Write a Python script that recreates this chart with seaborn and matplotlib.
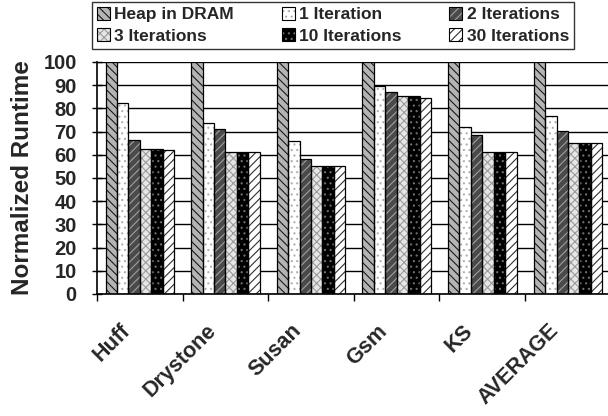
import numpy as np
import pandas as pd
import seaborn as sns
import matplotlib
matplotlib.use("Agg")
import matplotlib.pyplot as plt
from matplotlib.patches import Rectangle, Patch
from matplotlib.legend_handler import HandlerTuple
from matplotlib.transforms import ScaledTranslation

categories = ["Huff", "Drystone", "Susan", "Gsm", "KS", "AVERAGE"]
series = ["Heap in DRAM", "1 Iteration", "2 Iterations", "3 Iterations", "10 Iterations", "30 Iterations"]
heap_dram = [100, 100, 100, 100, 100, 100]
iter_1 = [82.2, 73.7, 66.1, 89.7, 72.1, 76.7]
iter_2 = [66.5, 71.1, 58.2, 87.1, 68.5, 70.3]
iter_3 = [62.5, 61.3, 55.0, 85.2, 61.3, 65.0]
iter_10 = [62.5, 61.0, 55.0, 85.2, 61.3, 65.0]
iter_30 = [61.9, 61.0, 55.0, 84.6, 61.3, 65.0]
yticks = [0, 10, 20, 30, 40, 50, 60, 70, 80, 90, 100]

values = [heap_dram, iter_1, iter_2, iter_3, iter_10, iter_30]
rows = []
for s, vals in zip(series, values):
    for c, v in zip(categories, vals):
        rows.append({"Benchmark": c, "Series": s, "Runtime": v})
df = pd.DataFrame(rows)

# style per series: (face, hatch, hatch color)
styles = [
    ("#b4b4b4", "\\\\\\\\", "#1a1a1a"),
    ("#ffffff", "...", "#b0b0b0"),
    ("#4a4a4a", "////", "#a0a0a0"),
    ("#e6e6e6", "xxxx", "#9a9a9a"),
    ("#000000", "...", "#707070"),
    ("#ffffff", "////", "#303030"),
]

sns.set_theme(style="white")
plt.rcParams["font.family"] = ["Liberation Sans", "DejaVu Sans"]
plt.rcParams["font.weight"] = "bold"
plt.rcParams["hatch.linewidth"] = 0.8

fig = plt.figure(figsize=(6.08, 4.16), dpi=100)
ax = fig.add_axes([0.1595, 0.2933, 0.845, 0.5577])

sns.barplot(data=df, x="Benchmark", y="Runtime", hue="Series", order=categories,
            hue_order=series, width=0.8, ax=ax, legend=False, errorbar=None,
            saturation=1)

for cont, (face, hatch, hc) in zip(ax.containers, styles):
    for p in cont.patches:
        p.set_facecolor(face)
        p.set_edgecolor(hc)
        p.set_hatch(hatch)
        p.set_linewidth(0)
        outline = Rectangle(p.get_xy(), p.get_width(), p.get_height(),
                            facecolor="none", edgecolor="black", linewidth=0.9,
                            zorder=p.get_zorder() + 0.1)
        ax.add_patch(outline)

ax.set_xlim(-0.5, len(categories) - 0.5)
ax.set_ylim(0, 100)
ax.set_yticks(yticks)
ax.set_yticklabels([str(t) for t in yticks], fontsize=14.5, fontweight="bold")
ax.yaxis.grid(True, color="black", linewidth=1.0)
ax.set_axisbelow(True)
ax.tick_params(axis="y", direction="inout", length=7, width=1, color="black", pad=11, left=True)

# boundary ticks (major) and labels at centers (minor)
ax.set_xticks(np.arange(-0.5, len(categories), 1.0))
ax.set_xticklabels([])
ax.set_xticks(np.arange(len(categories)), minor=True)
ax.set_xticklabels(categories, minor=True, rotation=45, ha="right", va="top",
                   fontsize=15.5, fontweight="bold")
ax.tick_params(axis="x", which="major", direction="out", length=5, width=1, color="black", bottom=True)
ax.tick_params(axis="x", which="minor", length=0, pad=19)
offset = ScaledTranslation(-5 / 100, 0, fig.dpi_scale_trans)
for lab in ax.get_xticklabels(minor=True):
    lab.set_transform(lab.get_transform() + offset)

ax.set_xlabel("")
ax.set_ylabel("Normalized Runtime", fontsize=17.5, fontweight="bold")
ax.yaxis.set_label_coords(-0.123, 0.5)

for side in ["top", "right"]:
    ax.spines[side].set_visible(False)
for side in ["left", "bottom"]:
    ax.spines[side].set_color("black")
    ax.spines[side].set_linewidth(1.2)

handles = []
for face, hatch, hc in styles:
    h1 = Patch(facecolor=face, edgecolor=hc, hatch=hatch, linewidth=0)
    h2 = Patch(facecolor="none", edgecolor="black", linewidth=0.8)
    handles.append((h1, h2))
order = [0, 3, 1, 4, 2, 5]
leg = fig.legend([handles[i] for i in order], [series[i] for i in order], ncol=3,
                 loc="upper left",
                 bbox_to_anchor=(92 / 608, 1 - 2 / 416),
                 handler_map={tuple: HandlerTuple(ndivide=1, pad=0)},
                 prop={"size": 12.5, "weight": "bold"},
                 handlelength=0.75, handleheight=0.75, handletextpad=0.25,
                 columnspacing=2.75, labelspacing=0.35, borderpad=0.28,
                 fancybox=False, frameon=True, borderaxespad=0)
leg.get_frame().set_edgecolor("black")
leg.get_frame().set_linewidth(1.0)

fig.savefig("out.png", dpi=100)
